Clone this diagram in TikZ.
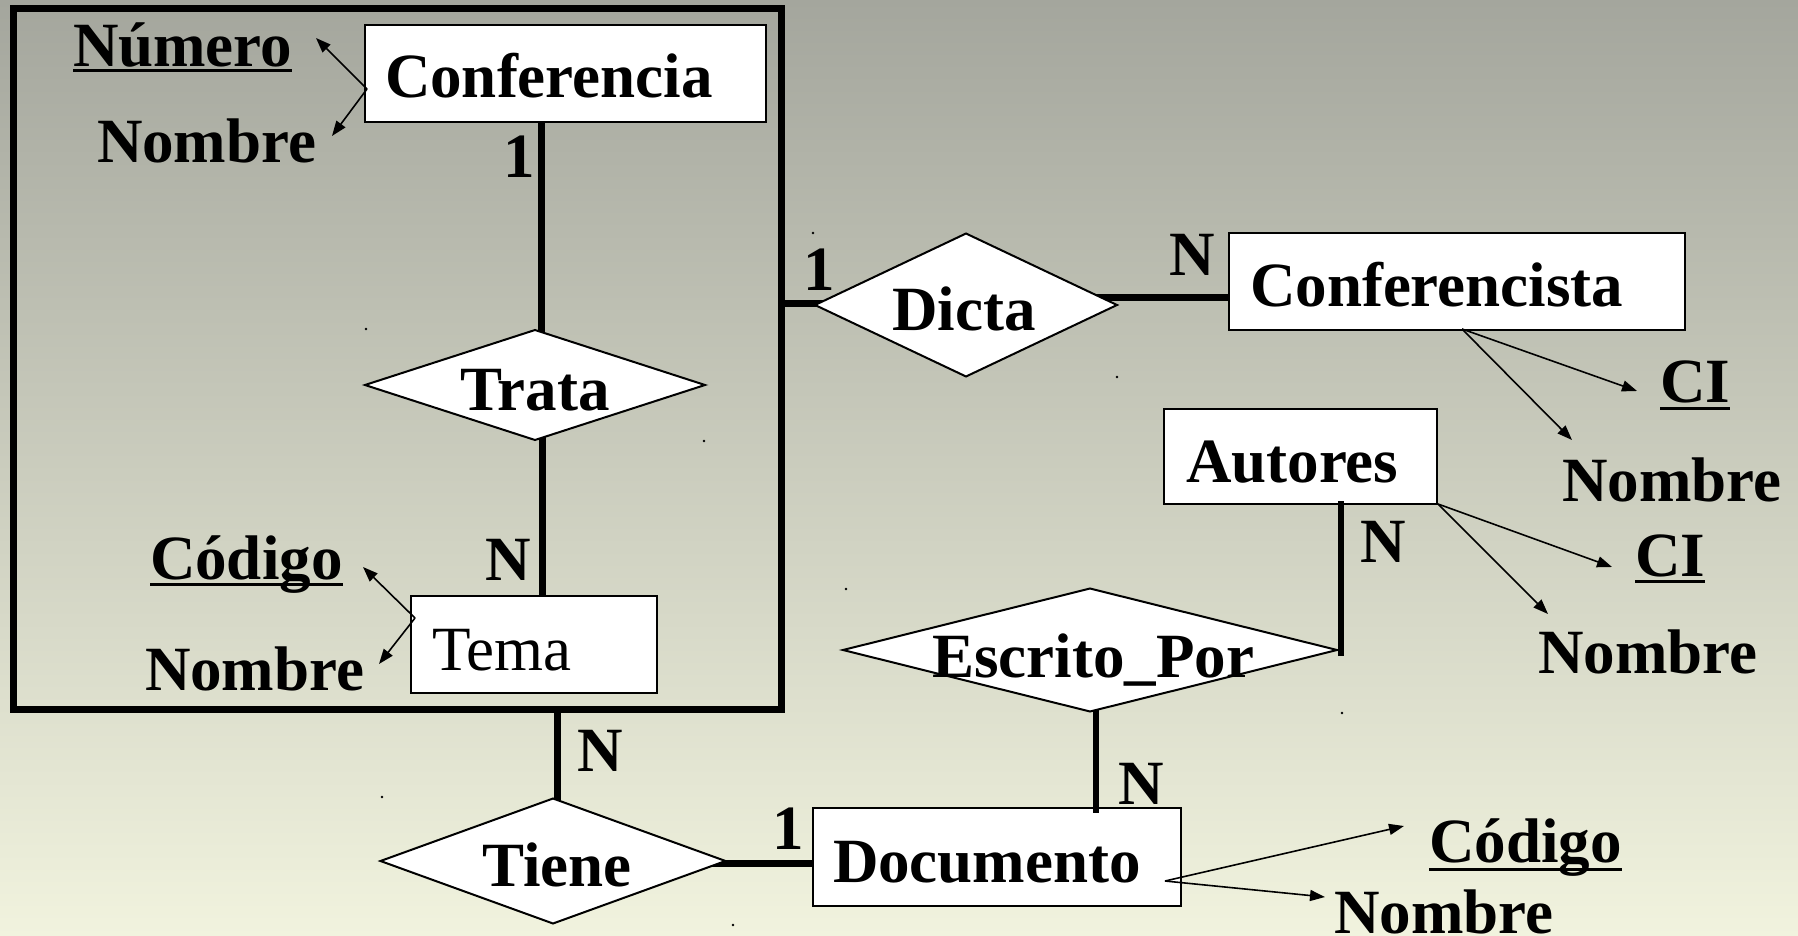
\documentclass[tikz,border=0pt]{standalone}
\usepackage{fontspec}
\setmainfont{Liberation Serif}
\usetikzlibrary{shapes.geometric,arrows.meta,fit,calc}
\pgfdeclarelayer{back}
\pgfdeclarelayer{conn}
\pgfsetlayers{back,conn,main}
\definecolor{bgtop}{RGB}{164,166,157}
\definecolor{bgbot}{RGB}{241,243,222}
\begin{document}
\begin{tikzpicture}[x=1pt,y=-1pt,
  every node/.style={inner sep=0pt, outer sep=0pt},
  ent/.style={draw=black, fill=white, line width=2pt, rectangle},
  rel/.style={draw=black, fill=white, line width=2pt, diamond},
  lbl/.style={font=\fontsize{63}{75}\selectfont\bfseries, anchor=base west},
  lblc/.style={font=\fontsize{63}{75}\selectfont\bfseries, anchor=base},
  reg/.style={font=\fontsize{63}{75}\selectfont, anchor=base west},
  card/.style={font=\fontsize{63}{75}\selectfont\bfseries, anchor=base west},
  conn/.style={line width=7pt},
  attr/.style={line width=1.6pt, -{Triangle[length=15pt,width=11pt]}},
  ul/.style={line width=3pt},
  aggr/.style={draw=black, line width=7pt, rectangle},
  speck/.style={fill=black},
]
\useasboundingbox (0,0) rectangle (1798,936);
\begin{pgfonlayer}{back}
  \shade[top color=bgtop, bottom color=bgbot] (0,0) rectangle (1798,936);
\end{pgfonlayer}

% aggregation frame
\node[aggr, fit={(13,9)(781,709)}] (agg) {};

% entities
\node[ent, fit={(365,25)(766,122)}] (conf) {};
\node[lbl] (conf-t) at (385,98) {Conferencia};
\node[ent, fit={(411,596)(657,693)}] (tema) {};
\node[reg] (tema-t) at (432,670) {Tema};
\node[ent, fit={(1229,233)(1685,330)}] (confa) {};
\node[lbl] (confa-t) at (1250,306) {Conferencista};
\node[ent, fit={(1164,409)(1437,504)}] (aut) {};
\node[lbl] (aut-t) at (1186,482) {Autores};
\node[ent, fit={(813,808)(1181,906)}] (doc) {};
\node[lbl] (doc-t) at (833,882) {Documento};

% relationships
\node[rel, minimum width=340pt, minimum height=110pt] (trata) at (535,385) {};
\node[lblc] (trata-t) at (535,410) {Trata};
\node[rel, minimum width=302pt, minimum height=143pt] (dicta) at (966,305) {};
\node[lblc] (dicta-t) at (964,330) {Dicta};
\node[rel, minimum width=345pt, minimum height=125pt] (tiene) at (553,861) {};
\node[lblc] (tiene-t) at (557,886) {Tiene};
\node[rel, minimum width=494pt, minimum height=123pt] (escr) at (1090,650) {};
\node[lblc] (escr-t) at (1093,677) {Escrito\_Por};

% attributes
\node[lbl] (num) at (73,67) {Número};
\node[lbl] (nom1) at (97,163) {Nombre};
\node[lbl] (cod1) at (150,579) {Código};
\node[lbl] (nom2) at (145,690) {Nombre};
\node[lbl] (ci1) at (1660,402) {CI};
\node[lbl] (nom3) at (1562,501) {Nombre};
\node[lbl] (ci2) at (1635,576) {CI};
\node[lbl] (nom4) at (1538,673) {Nombre};
\node[lbl] (cod2) at (1429,862) {Código};
\node[lbl] (nom5) at (1334,933) {Nombre};

\draw[ul] ([yshift=-4pt]num.base west) -- ([yshift=-4pt]num.base east);
\draw[ul] ([yshift=-5pt]cod1.base west) -- ([yshift=-5pt]cod1.base east);
\draw[ul] ([yshift=-6pt]ci1.base west) -- ([yshift=-6pt]ci1.base east);
\draw[ul] ([yshift=-5pt]ci2.base west) -- ([yshift=-5pt]ci2.base east);
\draw[ul] ([yshift=-7pt]cod2.base west) -- ([yshift=-7pt]cod2.base east);

% cardinalities
\node[card] (c1) at (503,178) {1};
\node[card] (c2) at (485,580) {N};
\node[card] (c3) at (803,290) {1};
\node[card] (c4) at (1169,275) {N};
\node[card] (c5) at (1360,562) {N};
\node[card] (c6) at (1118,804) {N};
\node[card] (c7) at (577,771) {N};
\node[card] (c8) at (772,849) {1};

% relationship connectors (behind the shapes)
\begin{pgfonlayer}{conn}
  \draw[conn] ($(conf.south -| trata.center)+(6,0)$) -- ($(trata.center)+(6,0)$);
  \draw[conn] ($(trata.center)+(7,0)$) -- ($(trata.center |- tema.north)+(7,0)$);
  \draw[conn] ($(tiene.center |- agg.south)+(4,0)$) -- ($(tiene.center)+(4,0)$);
  \draw[conn] ($(tiene.center)+(0,2)$) -- ($(tiene.center -| doc.west)+(0,2)$);
  \draw[conn] ($(agg.east |- dicta.center)+(0,-2)$) -- ($(dicta.center)+(0,-2)$);
  \draw[conn] ($(dicta.center)+(0,-8)$) -- ($(dicta.center -| confa.west)+(0,-8)$);
\end{pgfonlayer}
\draw[line width=6pt] ($(escr.south)+(6,-2)$) -- ($(escr.south |- doc.north)+(6,5)$);
\draw[line width=6pt] ($(escr.east)+(4,6)$) -- ($(escr.east |- aut.south)+(4,-3)$);

% attribute arrows
\coordinate (conf-o) at ($(conf.west)+(2,15.5)$);
\coordinate (num-tip) at (316,38);
\coordinate (nom1-tip) at (332,136);
\draw[attr] (conf-o) -- (num-tip);
\draw[attr] (conf-o) -- (nom1-tip);

\coordinate (tema-o) at ($(tema.west)+(4,-26.5)$);
\coordinate (cod1-tip) at (363,567);
\coordinate (nom2-tip) at (379,664);
\draw[attr] (tema-o) -- (cod1-tip);
\draw[attr] (tema-o) -- (nom2-tip);

\coordinate (confa-o) at ($(confa.south)+(5,-1)$);
\coordinate (ci1-tip) at (1637,391);
\coordinate (nom3-tip) at (1572,440);
\draw[attr] (confa-o) -- (ci1-tip);
\draw[attr] (confa-o) -- (nom3-tip);

\coordinate (aut-o) at ($(aut.south east)+(1,0)$);
\coordinate (ci2-tip) at (1612,567);
\coordinate (nom4-tip) at (1548,614);
\draw[attr] (aut-o) -- (ci2-tip);
\draw[attr] (aut-o) -- (nom4-tip);

\coordinate (doc-o) at ($(doc.east)+(-16,24)$);
\coordinate (cod2-tip) at (1404,826);
\coordinate (nom5-tip) at (1325,897);
\draw[attr] (doc-o) -- (cod2-tip);
\draw[attr] (doc-o) -- (nom5-tip);

% small specks
\foreach \p in {(366,329),(704,441),(382,797),(813,233),(1117,377),(846,589),(1342,713),(733,925)}
  \fill[speck] \p circle (1.3pt);
\end{tikzpicture}
\end{document}
